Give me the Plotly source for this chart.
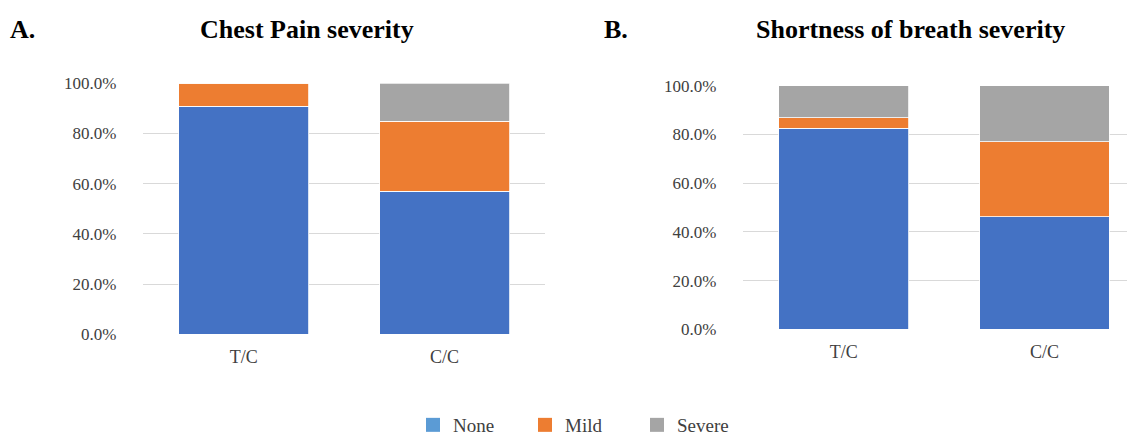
import plotly.graph_objects as go

categories = ["T/C", "C/C"]
series_names = ["None", "Mild", "Severe"]

chest_none = [0.909, 0.570]
chest_mild = [0.091, 0.279]
chest_severe = [0.0, 0.151]

breath_none = [0.826, 0.462]
breath_mild = [0.043, 0.307]
breath_severe = [0.131, 0.231]

bar_colors = ["#4472C4", "#ED7D31", "#A5A5A5"]
legend_colors = ["#5B9BD5", "#ED7D31", "#A5A5A5"]

# the page body has an 8px margin; size the figure so it fits the 1135x435 window
OFF = 8
W, H = 1135 - OFF, 435 - OFF
fig = go.Figure()

def add_chart(vals, xa, ya):
    for name, v, c in zip(series_names, vals, bar_colors):
        fig.add_trace(go.Bar(
            x=categories, y=v, name=name, marker=dict(color=c, line=dict(color="white", width=0.8)),
            xaxis=xa, yaxis=ya, showlegend=False,
        ))

add_chart([chest_none, chest_mild, chest_severe], "x", "y")
add_chart([breath_none, breath_mild, breath_severe], "x2", "y2")

for name, c in zip(series_names, legend_colors):
    fig.add_trace(go.Scatter(
        x=[None], y=[None], mode="markers", name=name,
        marker=dict(symbol="square", size=14, color=c), showlegend=True,
        xaxis="x", yaxis="y",
    ))

tickfont = dict(family="Liberation Serif", size=17, color="#404040")

def px(x):
    return (x - OFF) / W

def py(y):
    return 1 - (y - OFF) / H

yax = dict(range=[0, 1], tickformat=".1%", dtick=0.2, showgrid=True, gridcolor="#D9D9D9",
           gridwidth=1, zeroline=False, showline=False, tickfont=tickfont, ticks="",
           ticklabelstandoff=26, fixedrange=True, automargin=False)
xax = dict(showgrid=False, zeroline=False, showline=False,
           tickfont=dict(family="Liberation Serif", size=18, color="#404040"), ticks="",
           ticklabelstandoff=10, type="category", automargin=False)

cw_right = (1044.5 - 843.7)
right_span = (1135 - 743.3) / cw_right

fig.update_layout(
    template="none",
    width=W, height=H,
    margin=dict(l=0, r=0, t=0, b=0, autoexpand=False),
    paper_bgcolor="white", plot_bgcolor="white",
    barmode="stack", bargap=0.353,
    xaxis=dict(domain=[px(143.3), px(545)], range=[-0.5, 1.5], anchor="y", **xax),
    yaxis=dict(domain=[py(334.3), py(83.3)], anchor="x", **yax),
    xaxis2=dict(domain=[px(743.3), 1.0], range=[-0.5, -0.5 + right_span], anchor="y2", **xax),
    yaxis2=dict(domain=[py(329.3), py(85.7)], anchor="x2", **yax),
    legend=dict(orientation="h", x=px(581), xanchor="center", y=py(425), yanchor="middle",
                font=dict(family="Liberation Serif", size=19, color="#404040"),
                traceorder="normal",
                entrywidth=67, entrywidthmode="pixels", bgcolor="rgba(0,0,0,0)"),
    showlegend=True,
)

title_font = dict(family="Liberation Serif", size=26, color="black")
annots = [
    ("<b>A.</b>", px(8), "left"),
    ("<b>Chest Pain severity</b>", px(307), "center"),
    ("<b>B.</b>", px(602), "left"),
    ("<b>Shortness of breath severity</b>", px(910), "center"),
]
for text, x, anchor in annots:
    fig.add_annotation(text=text, x=x, y=py(29), xref="paper", yref="paper",
                       xanchor=anchor, yanchor="middle", showarrow=False, font=title_font)

fig.write_html("out.html")
